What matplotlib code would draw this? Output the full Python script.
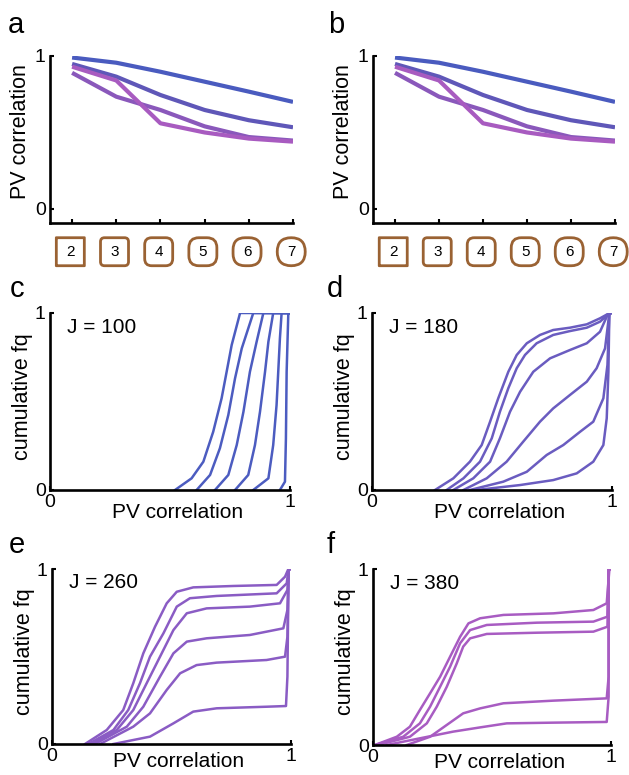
import matplotlib
matplotlib.use("Agg")
import matplotlib.pyplot as plt
import matplotlib.transforms as mtransforms
from matplotlib.patches import FancyBboxPatch

plt.rcParams['font.family'] = ['Liberation Sans', 'DejaVu Sans']

# ---- data ----
steps = [2, 3, 4, 5, 6, 7]
corner_radius = [0.0, 0.04, 0.07, 0.10, 0.12, 0.14]   # rounding of the step boxes (inches)

pv_J100 = [0.99, 0.956, 0.897, 0.832, 0.767, 0.70]
pv_J180 = [0.948, 0.865, 0.745, 0.647, 0.58, 0.534]
pv_J260 = [0.89, 0.734, 0.647, 0.54, 0.47, 0.447]
pv_J380 = [0.93, 0.84, 0.56, 0.50, 0.46, 0.44]

col_J100 = '#4a5bbf'
col_J180 = '#5f57b8'
col_J260 = '#8a58bb'
col_J380 = '#a85bc0'

# cumulative distributions, J = 100
c_x = [
    [0.521, 0.59, 0.639, 0.68, 0.715, 0.736, 0.757, 0.792],
    [0.611, 0.667, 0.708, 0.743, 0.771, 0.799, 0.847],
    [0.6875, 0.743, 0.778, 0.806, 0.833, 0.861, 0.889],
    [0.771, 0.826, 0.854, 0.875, 0.896, 0.91, 0.93],
    [0.847, 0.91, 0.93, 0.944, 0.951, 0.958, 0.965],
    [0.958, 0.979, 0.983, 0.986, 0.993],
]
c_y = [
    [0.0, 0.066, 0.16, 0.329, 0.518, 0.668, 0.819, 1.0],
    [0.0, 0.085, 0.236, 0.424, 0.631, 0.80, 1.0],
    [0.0, 0.085, 0.254, 0.442, 0.668, 0.838, 1.0],
    [0.0, 0.085, 0.254, 0.442, 0.668, 0.838, 1.0],
    [0.0, 0.066, 0.254, 0.48, 0.668, 0.857, 1.0],
    [0.0, 0.047, 0.292, 0.668, 1.0],
]

# J = 180
d_x = [
    [0.2625, 0.339, 0.408, 0.457, 0.492, 0.526, 0.568, 0.603, 0.645, 0.70, 0.755, 0.825, 0.895, 0.95, 0.99],
    [0.311, 0.381, 0.45, 0.499, 0.533, 0.568, 0.603, 0.6375, 0.686, 0.755, 0.825, 0.895, 0.95, 0.99],
    [0.339, 0.422, 0.492, 0.533, 0.575, 0.617, 0.672, 0.742, 0.825, 0.895, 0.95, 0.985],
    [0.381, 0.478, 0.561, 0.63, 0.70, 0.755, 0.825, 0.895, 0.936, 0.971, 0.989],
    [0.408, 0.547, 0.645, 0.728, 0.797, 0.867, 0.922, 0.964, 0.981, 0.989],
    [0.436, 0.617, 0.755, 0.853, 0.922, 0.964, 0.978, 0.985, 0.989],
]
d_y = [
    [0.0, 0.066, 0.16, 0.254, 0.386, 0.518, 0.668, 0.763, 0.829, 0.876, 0.904, 0.917, 0.936, 0.97, 1.0],
    [0.0, 0.066, 0.16, 0.292, 0.442, 0.575, 0.688, 0.763, 0.829, 0.876, 0.898, 0.917, 0.951, 1.0],
    [0.0, 0.066, 0.16, 0.292, 0.442, 0.555, 0.668, 0.744, 0.791, 0.829, 0.894, 1.0],
    [0.0, 0.066, 0.16, 0.273, 0.386, 0.461, 0.537, 0.612, 0.688, 0.80, 1.0],
    [0.0, 0.047, 0.103, 0.198, 0.254, 0.329, 0.386, 0.518, 0.706, 1.0],
    [0.0, 0.028, 0.056, 0.094, 0.16, 0.254, 0.405, 0.668, 1.0],
]

# J = 260
e_x = [
    [0.138, 0.229, 0.298, 0.34, 0.382, 0.431, 0.48, 0.522, 0.591, 0.759, 0.94, 0.975, 0.989],
    [0.152, 0.257, 0.319, 0.368, 0.41, 0.466, 0.522, 0.577, 0.689, 0.94, 0.982, 0.99],
    [0.166, 0.271, 0.34, 0.396, 0.452, 0.508, 0.564, 0.647, 0.828, 0.954, 0.985, 0.99],
    [0.18, 0.313, 0.382, 0.452, 0.508, 0.564, 0.647, 0.828, 0.968, 0.985, 0.99],
    [0.201, 0.34, 0.41, 0.48, 0.536, 0.605, 0.689, 0.898, 0.975, 0.985, 0.99],
    [0.257, 0.41, 0.508, 0.591, 0.689, 0.898, 0.979, 0.985, 0.99],
]
e_y = [
    [0.0, 0.08, 0.194, 0.347, 0.518, 0.67, 0.804, 0.87, 0.895, 0.903, 0.909, 0.956, 1.0],
    [0.0, 0.08, 0.194, 0.347, 0.499, 0.632, 0.785, 0.833, 0.846, 0.861, 0.918, 1.0],
    [0.0, 0.08, 0.194, 0.347, 0.499, 0.651, 0.747, 0.775, 0.785, 0.804, 0.88, 1.0],
    [0.0, 0.099, 0.213, 0.385, 0.518, 0.585, 0.604, 0.623, 0.661, 0.766, 1.0],
    [0.0, 0.099, 0.175, 0.309, 0.404, 0.451, 0.465, 0.48, 0.499, 0.613, 1.0],
    [0.0, 0.042, 0.118, 0.185, 0.204, 0.213, 0.217, 0.385, 1.0],
]

# J = 380
f_x = [
    [0.008, 0.1, 0.155, 0.197, 0.24, 0.282, 0.324, 0.366, 0.401, 0.45, 0.548, 0.758, 0.926, 0.982, 0.993],
    [0.008, 0.127, 0.197, 0.24, 0.282, 0.324, 0.366, 0.408, 0.478, 0.688, 0.926, 0.985, 0.99],
    [0.022, 0.155, 0.226, 0.268, 0.31, 0.352, 0.379, 0.408, 0.478, 0.688, 0.926, 0.985, 0.99],
    [0.142, 0.24, 0.31, 0.379, 0.45, 0.548, 0.758, 0.982, 0.99, 0.99],
    [0.058, 0.197, 0.337, 0.45, 0.562, 0.758, 0.982, 0.99, 0.99],
]
f_y = [
    [0.0, 0.047, 0.104, 0.199, 0.294, 0.388, 0.502, 0.615, 0.691, 0.72, 0.739, 0.748, 0.767, 0.805, 0.994],
    [0.0, 0.047, 0.123, 0.218, 0.331, 0.445, 0.578, 0.653, 0.682, 0.695, 0.701, 0.729, 1.0],
    [0.0, 0.047, 0.123, 0.218, 0.331, 0.464, 0.559, 0.606, 0.631, 0.638, 0.644, 0.672, 1.0],
    [0.0, 0.047, 0.114, 0.18, 0.208, 0.237, 0.252, 0.265, 0.388, 1.0],
    [0.0, 0.038, 0.076, 0.1, 0.123, 0.127, 0.131, 0.274, 1.0],
]

W, H = 629, 775
fig = plt.figure(figsize=(W / 100, H / 100), dpi=100)


def make_ax(left, top, right, bottom):
    return fig.add_axes([left / W, (H - bottom) / H, (right - left) / W, (bottom - top) / H])


def style(ax):
    for s in ['top', 'right']:
        ax.spines[s].set_visible(False)
    for s in ['left', 'bottom']:
        ax.spines[s].set_linewidth(1.9)
    ax.tick_params(direction='in', length=3, width=1.5, labelsize=14, pad=3)


def pv_panel(ax):
    style(ax)
    ax.plot(steps, pv_J100, color=col_J100, lw=3, solid_capstyle='butt')
    ax.plot(steps, pv_J180, color=col_J180, lw=3, solid_capstyle='butt')
    ax.plot(steps, pv_J260, color=col_J260, lw=3, solid_capstyle='butt')
    ax.plot(steps, pv_J380, color=col_J380, lw=3, solid_capstyle='butt')
    ax.set_xlim(1.5, 7.0)
    ax.set_ylim(-0.092, 1.0)
    ax.set_yticks([0, 1])
    ax.set_xticks(steps)
    ax.set_xticklabels([])
    ax.set_ylabel('PV correlation', fontsize=15.5)
    ax.yaxis.set_label_coords(-0.08, 0.55)
    blend = mtransforms.blended_transform_factory(ax.transData, ax.transAxes)
    for k, r in zip(steps, corner_radius):
        tr = fig.dpi_scale_trans + mtransforms.ScaledTranslation(k - 0.04, -0.172, blend)
        box = FancyBboxPatch((-0.14, -0.14), 0.28, 0.28,
                             boxstyle='round,pad=0,rounding_size=%g' % max(r, 0.001),
                             transform=tr, fc='white', ec='#9a6233', lw=2.0,
                             clip_on=False)
        fig.add_artist(box)
        fig.text(0, 0, str(k), transform=tr, ha='center', va='center', fontsize=11)


def cdf_panel(ax, xs, ys, color, label, xlab_y):
    style(ax)
    for x, y in zip(xs, ys):
        ax.plot(list(x) + [1.0], list(y) + [1.0], color=color, lw=1.8)
    ax.set_xlim(0, 1)
    ax.set_ylim(0, 1)
    ax.set_xticks([0, 1])
    ax.set_yticks([0, 1])
    ax.set_xticklabels(['0', '1'])
    ax.set_yticklabels(['0', '1'])
    ax.text(0.07, 0.92, label, transform=ax.transAxes, fontsize=15, va='center')
    ax.set_ylabel('cumulative fq', fontsize=15.5)
    ax.yaxis.set_label_coords(-0.07, 0.53)
    ax.set_xlabel('PV correlation', fontsize=15)
    ax.xaxis.set_label_coords(0.53, xlab_y)


ax_a = make_ax(50, 56, 293, 223)
pv_panel(ax_a)
ax_b = make_ax(373, 56, 615, 223)
pv_panel(ax_b)

ax_c = make_ax(50, 313, 290, 490)
cdf_panel(ax_c, c_x, c_y, '#4c5cc0', 'J = 100', -0.075)
ax_d = make_ax(372, 313, 612, 490)
cdf_panel(ax_d, d_x, d_y, '#6a5cc0', 'J = 180', -0.075)
ax_e = make_ax(52, 569, 291, 744)
cdf_panel(ax_e, e_x, e_y, '#8a5cc4', 'J = 260', -0.045)
ax_f = make_ax(373, 569, 611, 745)
cdf_panel(ax_f, f_x, f_y, '#a85cc2', 'J = 380', -0.045)

for letter, px, py in [('a', 8, 33), ('b', 328, 33), ('c', 10, 297),
                       ('d', 327, 297), ('e', 9, 553), ('f', 327, 553)]:
    fig.text(px / W, (H - py) / H, letter, fontsize=21, va='baseline', ha='left')

fig.savefig('out.png', dpi=100)
